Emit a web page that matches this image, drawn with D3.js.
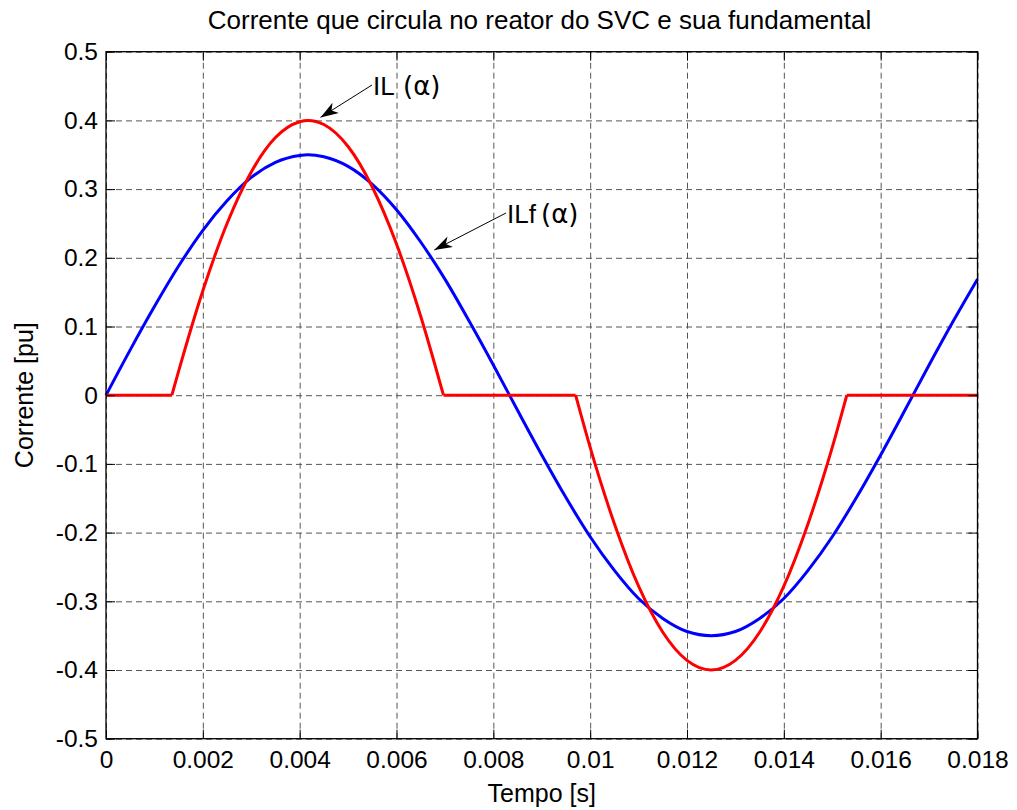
<!DOCTYPE html>
<html>
<head>
<meta charset="utf-8">
<script src="https://cdn.jsdelivr.net/npm/d3@7"></script>
<style>
  body { margin: 0; background: #fff; }
  text { font-family: "Liberation Sans", Arial, sans-serif; }
</style>
</head>
<body>
<script>
// values
const blueTime = [0, 0.0005, 0.001, 0.0015, 0.002, 0.0025, 0.003, 0.0035, 0.004, 0.00417,
  0.0045, 0.005, 0.0055, 0.006, 0.0065, 0.007, 0.0075, 0.008, 0.0085, 0.009, 0.0095,
  0.01, 0.0105, 0.011, 0.0115, 0.012, 0.0125, 0.013, 0.0135, 0.014, 0.0145, 0.015,
  0.0155, 0.016, 0.0165, 0.017, 0.0175, 0.018];
const blueCurrent = [0, 0.066, 0.129, 0.188, 0.240, 0.283, 0.317, 0.339, 0.349, 0.350,
  0.347, 0.333, 0.307, 0.270, 0.223, 0.169, 0.108, 0.044, -0.022, -0.087, -0.149,
  -0.206, -0.255, -0.296, -0.325, -0.344, -0.350, -0.344, -0.325, -0.296, -0.255, -0.206,
  -0.149, -0.087, -0.022, 0.044, 0.108, 0.169];

const redTime = [0, 0.00136, 0.0015, 0.002, 0.0025, 0.003, 0.0035, 0.004, 0.00417,
  0.0045, 0.005, 0.0055, 0.006, 0.0065, 0.00697, 0.0097, 0.01, 0.0105, 0.011, 0.0115,
  0.012, 0.0125, 0.013, 0.0135, 0.014, 0.0145, 0.015, 0.0153, 0.018];
const redCurrent = [0, 0, 0.035, 0.152, 0.250, 0.325, 0.375, 0.398, 0.400,
  0.394, 0.362, 0.303, 0.220, 0.115, 0, 0, -0.076, -0.187, -0.278, -0.345,
  -0.386, -0.400, -0.386, -0.345, -0.278, -0.187, -0.076, 0, 0];

const xTicks = [0, 0.002, 0.004, 0.006, 0.008, 0.01, 0.012, 0.014, 0.016, 0.018];
const yTicks = [-0.5, -0.4, -0.3, -0.2, -0.1, 0, 0.1, 0.2, 0.3, 0.4, 0.5];

let dim = { width: 1017, height: 810 };
let plot = { left: 106, top: 51.7, right: 977.5, bottom: 738.7 };

let svg = d3.select('body').append('svg')
  .attr('width', dim.width)
  .attr('height', dim.height);

let x = d3.scaleLinear([0, 0.018], [plot.left, plot.right]);
let y = d3.scaleLinear([-0.5, 0.5], [plot.bottom, plot.top]);
let w = plot.right - plot.left;
let h = plot.bottom - plot.top;

// grid
let gridX = d3.axisBottom(x).tickValues(xTicks).tickFormat('').tickSize(-h).tickSizeOuter(0);
svg.append('g').attr('class', 'grid').attr('transform', `translate(0,${plot.bottom})`).call(gridX);
let gridY = d3.axisLeft(y).tickValues(yTicks).tickFormat('').tickSize(-w).tickSizeOuter(0);
svg.append('g').attr('class', 'grid').attr('transform', `translate(${plot.left},0)`).call(gridY);
svg.selectAll('.grid .domain').remove();
svg.selectAll('.grid line')
  .attr('stroke', '#555')
  .attr('stroke-dasharray', '6 4');

// curves
let line = d3.line().curve(d3.curveMonotoneX);
svg.append('path')
  .attr('d', line(blueTime.map((t, i) => [x(t), y(blueCurrent[i])])))
  .attr('fill', 'none')
  .attr('stroke', '#0000ff')
  .attr('stroke-width', 3);

// red: split at the zero points so the flat parts keep sharp corners
let redPts = redTime.map((t, i) => [x(t), y(redCurrent[i])]);
let pieces = [];
let cur = [redPts[0]];
for (let i = 1; i < redPts.length; i++) {
  cur.push(redPts[i]);
  if (redCurrent[i] === 0) {
    pieces.push(cur);
    cur = [redPts[i]];
  }
}
if (cur.length > 1) pieces.push(cur);
svg.append('path')
  .attr('d', pieces.map(p => line(p)).join(''))
  .attr('fill', 'none')
  .attr('stroke', '#ff0000')
  .attr('stroke-width', 3)
  .attr('stroke-linejoin', 'round');

// axes, ticks pointing inward on all four sides
function styleAxis(g) {
  g.selectAll('.domain').remove();
  g.selectAll('line').attr('stroke', '#000');
  g.selectAll('text').attr('font-size', 24.5).attr('fill', '#000')
    .style('font-family', '"Liberation Sans", Arial, sans-serif');
}
let fmt = d => String(d);
svg.append('g').attr('transform', `translate(0,${plot.bottom})`)
  .call(d3.axisBottom(x).tickValues(xTicks).tickFormat(fmt).tickSize(-9).tickPadding(12).tickSizeOuter(0))
  .call(styleAxis);
svg.append('g').attr('transform', `translate(${plot.left},0)`)
  .call(d3.axisLeft(y).tickValues(yTicks).tickFormat(fmt).tickSize(-9).tickPadding(8).tickSizeOuter(0))
  .call(styleAxis);
svg.append('g').attr('transform', `translate(0,${plot.top})`)
  .call(d3.axisTop(x).tickValues(xTicks).tickFormat('').tickSize(-9).tickSizeOuter(0))
  .call(styleAxis);
svg.append('g').attr('transform', `translate(${plot.right},0)`)
  .call(d3.axisRight(y).tickValues(yTicks).tickFormat('').tickSize(-9).tickSizeOuter(0))
  .call(styleAxis);

svg.append('rect')
  .attr('x', plot.left).attr('y', plot.top)
  .attr('width', w).attr('height', h)
  .attr('fill', 'none').attr('stroke', '#000').attr('stroke-width', 1.3);

// labels
svg.append('text')
  .attr('x', 539.5).attr('y', 29)
  .attr('text-anchor', 'middle').attr('font-size', 26)
  .text('Corrente que circula no reator do SVC e sua fundamental');
svg.append('text')
  .attr('x', (plot.left + plot.right) / 2).attr('y', 802)
  .attr('text-anchor', 'middle').attr('font-size', 25)
  .text('Tempo [s]');
svg.append('text')
  .attr('transform', `translate(33,${(plot.top + plot.bottom) / 2}) rotate(-90)`)
  .attr('text-anchor', 'middle').attr('font-size', 25)
  .text('Corrente [pu]');

// annotations
svg.append('defs').append('marker')
  .attr('id', 'head')
  .attr('viewBox', '0 0 18 12')
  .attr('refX', 18).attr('refY', 6)
  .attr('markerWidth', 18).attr('markerHeight', 12)
  .attr('markerUnits', 'userSpaceOnUse')
  .attr('orient', 'auto')
  .append('path').attr('d', 'M0,0 L18,6 L0,12 L5,6 Z').attr('fill', '#000');

let notes = [
  { name: 'IL', t: 0.00443, v: 0.40, tx: 373, ty: 95, px: 403 },
  { name: 'ILf', t: 0.00678, v: 0.207, tx: 507, ty: 223, px: 541 }
];
notes.forEach(n => {
  svg.append('line')
    .attr('x1', n.tx - 1).attr('y1', n.ty - 10)
    .attr('x2', x(n.t)).attr('y2', y(n.v) - 3)
    .attr('stroke', '#000').attr('stroke-width', 1)
    .attr('marker-end', 'url(#head)');
  svg.append('text').attr('x', n.tx).attr('y', n.ty).attr('font-size', 26).text(n.name);
  svg.append('text').attr('x', n.px).attr('y', n.ty).attr('font-size', 26)
    .style('font-family', '"DejaVu Sans", sans-serif')
    .text('(α)');
});
</script>
</body>
</html>
